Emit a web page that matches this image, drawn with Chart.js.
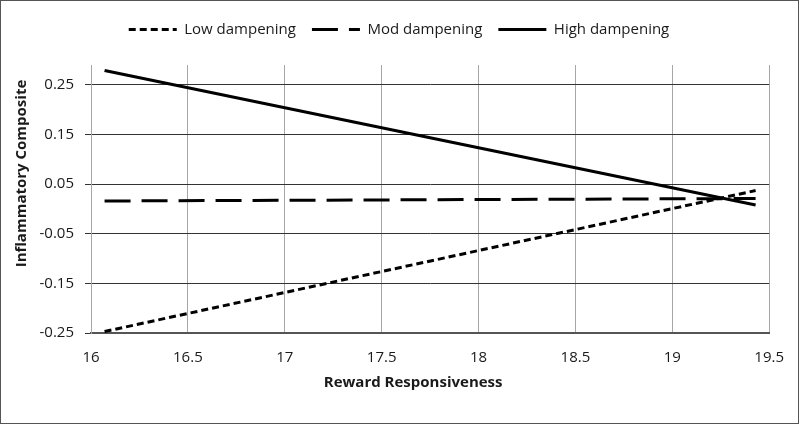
<!DOCTYPE html>
<html>
<head>
<meta charset="utf-8">
<script src="https://cdn.jsdelivr.net/npm/chart.js@4"></script>
<style>
  body { margin: 0; background: #fff; }
</style>
</head>
<body>
<canvas id="moderationChart" width="800" height="425"></canvas>
<script>
// simple slopes
const xValues = [16.07, 19.43];
const lowValues = [-0.247, 0.037];
const modValues = [0.016, 0.021];
const highValues = [0.279, 0.008];

const seriesNames = ["Low dampening", "Mod dampening", "High dampening"];
const xTicks = [16, 16.5, 17, 17.5, 18, 18.5, 19, 19.5];
const yTicks = [-0.25, -0.15, -0.05, 0.05, 0.15, 0.25];
const xTitle = "Reward Responsiveness";
const yTitle = "Inflammatory Composite";

const toPoints = (ys) => xValues.map((x, i) => ({ x: x, y: ys[i] }));

const textColor = "#1a1a1a";
const font = "'Open Sans', 'Noto Sans', sans-serif";

// extra room under the legend, and centre it on the whole picture
const legendGap = {
  id: "legendGap",
  beforeInit(chart) {
    const fit = chart.legend.fit;
    chart.legend.fit = function () {
      fit.bind(chart.legend)();
      this.height += 18;
    };
  },
  afterLayout(chart) {
    chart.legend.right = chart.width - 2;
  },
};

// axis titles sit a bit off-centre in the original (excel style)
const axisTitles = {
  id: "axisTitles",
  afterDraw(chart) {
    const { ctx, chartArea } = chart;
    ctx.save();
    ctx.fillStyle = textColor;
    ctx.font = "bold 15px " + font;
    ctx.textAlign = "center";
    ctx.textBaseline = "middle";
    ctx.fillText(xTitle, chartArea.left + (chartArea.right - chartArea.left) * 0.475, 383);
    ctx.translate(22, chartArea.top + (chartArea.bottom - chartArea.top) * 0.405);
    ctx.rotate(-Math.PI / 2);
    ctx.fillText(yTitle, 0, 0);
    ctx.restore();
  },
};

// outer frame around the picture
const frame = {
  id: "frame",
  afterDraw(chart) {
    const ctx = chart.ctx;
    ctx.save();
    ctx.strokeStyle = "#555";
    ctx.lineWidth = 1;
    ctx.strokeRect(0.5, 0.5, chart.width - 2, chart.height - 2);
    ctx.restore();
  },
};

const ctx = document.getElementById("moderationChart");
new Chart(ctx, {
  type: "line",
  data: {
    datasets: [
      {
        label: seriesNames[0],
        data: toPoints(lowValues),
        borderColor: "#000",
        backgroundColor: "#000",
        borderWidth: 3,
        borderDash: [7, 4],
        pointRadius: 0,
        fill: false,
      },
      {
        label: seriesNames[1],
        data: toPoints(modValues),
        borderColor: "#000",
        backgroundColor: "#000",
        borderWidth: 3,
        borderDash: [26, 11],
        pointRadius: 0,
        fill: false,
      },
      {
        label: seriesNames[2],
        data: toPoints(highValues),
        borderColor: "#000",
        backgroundColor: "#000",
        borderWidth: 3,
        pointRadius: 0,
        fill: false,
      },
    ],
  },
  options: {
    responsive: false,
    animation: false,
    devicePixelRatio: 1,
    layout: {
      padding: { left: 0, right: 27, top: 6, bottom: 0 },
    },
    plugins: {
      tooltip: { enabled: false },
      legend: {
        position: "top",
        labels: {
          color: textColor,
          font: { family: font, size: 15 },
          usePointStyle: true,
          pointStyle: "line",
          pointStyleWidth: 48,
          boxHeight: 15,
          padding: 16,
          generateLabels: (chart) => {
            const items = Chart.defaults.plugins.legend.labels.generateLabels(chart);
            items.forEach((item) => {
              const ds = chart.data.datasets[item.datasetIndex];
              item.lineDash = ds.borderDash || [];
              item.lineWidth = ds.borderWidth;
              item.strokeStyle = ds.borderColor;
            });
            return items;
          },
        },
      },
    },
    scales: {
      x: {
        type: "linear",
        min: 16,
        max: 19.5,
        afterBuildTicks: (scale) => {
          scale.ticks = xTicks.map((v) => ({ value: v }));
        },
        afterFit: (scale) => {
          scale.height = 92;
        },
        grid: {
          color: "#a6a6a6",
          lineWidth: 1,
          drawTicks: false,
        },
        border: { display: true, color: "#555", width: 2 },
        ticks: {
          color: textColor,
          font: { family: font, size: 15 },
          padding: 16,
          maxRotation: 0,
          callback: (v) => String(v),
        },
      },
      y: {
        min: -0.25,
        max: 0.29,
        afterBuildTicks: (scale) => {
          scale.ticks = yTicks.map((v) => ({ value: v }));
        },
        afterFit: (scale) => {
          scale.width = 91;
        },
        grid: {
          color: "#333",
          lineWidth: 1,
          tickLength: 6,
        },
        border: { display: true, color: "#a6a6a6" },
        ticks: {
          color: textColor,
          font: { family: font, size: 15 },
          padding: 11,
          callback: (v) => v.toFixed(2),
        },
      },
    },
  },
  plugins: [legendGap, axisTitles, frame],
});
</script>
</body>
</html>
